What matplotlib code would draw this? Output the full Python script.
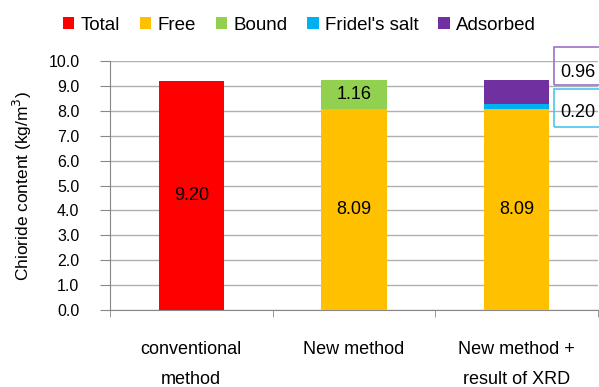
import numpy as np
import matplotlib.pyplot as plt
from matplotlib.patches import Rectangle
from matplotlib.legend_handler import HandlerPatch

plt.rcParams['font.family'] = ['Liberation Sans', 'DejaVu Sans']

# chloride content per method (kg/m3)
categories = ['conventional\nmethod', 'New method', 'New method +\nresult of XRD']
total = [9.20, 0, 0]
free = [0, 8.09, 8.09]
bound = [0, 1.16, 0]
fridel = [0, 0, 0.20]
adsorbed = [0, 0, 0.96]

colors = {'Total': '#FF0000', 'Free': '#FFC000', 'Bound': '#92D050',
          "Fridel's salt": '#00B0F0', 'Adsorbed': '#7030A0'}

fig = plt.figure(figsize=(5.99, 3.87), dpi=100)
ax = fig.add_axes([0.1836, 0.199, 0.8147, 0.643])

x = np.arange(len(categories))
w = 0.4
ax.bar(x, total, w, color=colors['Total'], label='Total', zorder=3)
ax.bar(x, free, w, color=colors['Free'], label='Free', zorder=3)
ax.bar(x, bound, w, bottom=free, color=colors['Bound'], label='Bound', zorder=3)
ax.bar(x, fridel, w, bottom=free, color=colors["Fridel's salt"], label="Fridel's salt", zorder=3)
bot = np.array(free) + np.array(fridel)
ax.bar(x, adsorbed, w, bottom=bot, color=colors['Adsorbed'], label='Adsorbed', zorder=3)

fs = 13
ax.text(0, total[0] / 2, f'{total[0]:.2f}', ha='center', va='center', fontsize=fs, zorder=4)
ax.text(1, free[1] / 2, f'{free[1]:.2f}', ha='center', va='center', fontsize=fs, zorder=4)
ax.text(2, free[2] / 2, f'{free[2]:.2f}', ha='center', va='center', fontsize=fs, zorder=4)
ax.text(1, free[1] + bound[1] / 2, f'{bound[1]:.2f}', ha='center', va='center', fontsize=fs, zorder=4)

# boxed callouts for the thin segments
ax.add_patch(Rectangle((2.227, 9.04), 0.4, 1.52, fill=False, edgecolor='#9B72C8',
                       linewidth=1.2, clip_on=False, zorder=4))
ax.add_patch(Rectangle((2.227, 7.35), 0.4, 1.53, fill=False, edgecolor='#4FC3F0',
                       linewidth=1.2, clip_on=False, zorder=4))
ax.text(2.27, 9.56, f'{adsorbed[2]:.2f}', ha='left', va='center', fontsize=fs, clip_on=False)
ax.text(2.27, 7.95, f'{fridel[2]:.2f}', ha='left', va='center', fontsize=fs, clip_on=False)

ax.set_xlim(-0.5, 2.5)
ax.set_ylim(0, 10)
ax.set_yticks(np.arange(0, 10.1, 1.0))
ax.set_yticklabels([f'{v:.1f}' for v in np.arange(0, 10.1, 1.0)], fontsize=11.5)
ax.yaxis.grid(True, color='#B0B0B0', linewidth=1, zorder=0)
ax.set_ylabel('Chioride content (kg/m$^3$)', fontsize=12.5, labelpad=10)

ax.set_xticks(x)
ax.set_xticklabels(categories, fontsize=fs, linespacing=2.0)
ax.tick_params(axis='x', length=0, pad=22)
ax.set_xticks([-0.5, 0.5, 1.5, 2.5], minor=True)
ax.tick_params(axis='x', which='minor', length=5, color='#888888', direction='out')
ax.tick_params(axis='y', length=7, color='#888888', direction='out', pad=15)

for s in ['top', 'right']:
    ax.spines[s].set_visible(False)
ax.spines['left'].set_color('#888888')
ax.spines['bottom'].set_color('#888888')


# legend swatches sit high, level with the top of the text
def raised_square(legend, orig_handle, xdescent, ydescent, width, height, fontsize):
    return Rectangle((-xdescent, -ydescent + height * 0.8), width, width)


fig.legend(loc='upper center', bbox_to_anchor=(0.5, 1.0), ncol=5, frameon=False,
           fontsize=13.5, handlelength=0.6, handleheight=0.6, handletextpad=0.35,
           columnspacing=1.05,
           handler_map={Rectangle: HandlerPatch(patch_func=raised_square)})

fig.savefig('out.png', dpi=100)
